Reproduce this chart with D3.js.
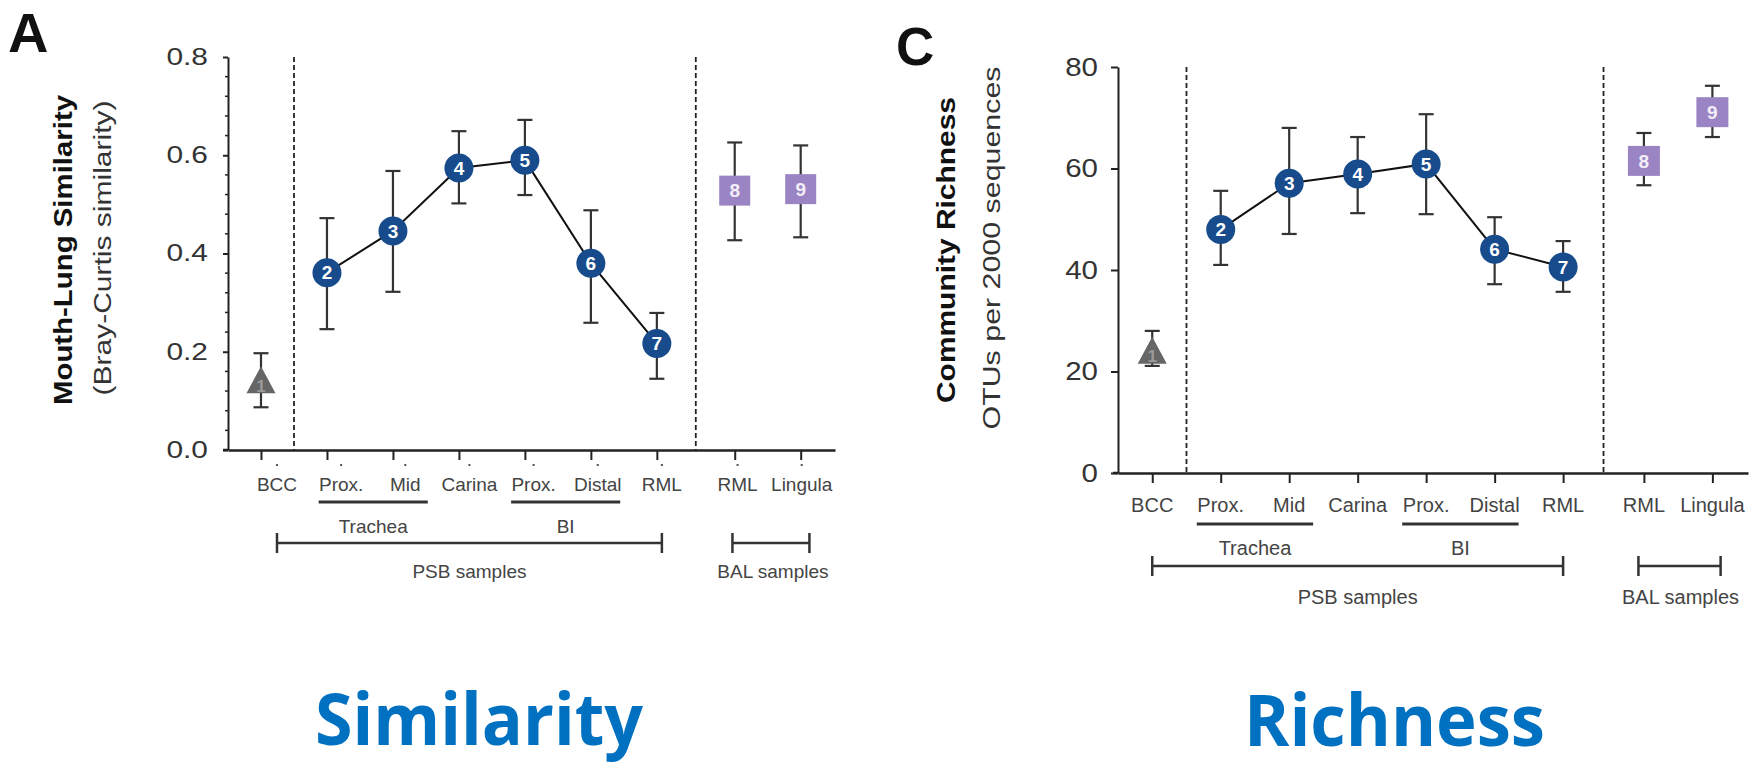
<!DOCTYPE html>
<html><head><meta charset="utf-8">
<script src="https://cdn.jsdelivr.net/npm/d3@7"></script>
<style>
html,body{margin:0;padding:0;background:#fff;}
svg{display:block;}
</style></head>
<body>
<svg id="chart" width="1760" height="768"></svg>
<script>
// ---------------- data ----------------
const categories = ["BCC","Prox.","Mid","Carina","Prox.","Distal","RML","RML","Lingula"];
const pointIds   = ["1","2","3","4","5","6","7","8","9"];
const markerKind = ["triangle","circle","circle","circle","circle","circle","circle","square","square"];
const connected  = [false,true,true,true,true,true,true,false,false];

const simMean = [0.139,0.361,0.446,0.574,0.590,0.380,0.217,0.528,0.531];
const simLow  = [0.087,0.246,0.322,0.502,0.519,0.259,0.145,0.427,0.433];
const simHigh = [0.197,0.472,0.568,0.649,0.672,0.488,0.279,0.626,0.620];
const simTicks = [0,0.2,0.4,0.6,0.8];

const richMean = [23.8,48.0,57.1,58.9,60.9,44.1,40.6,61.5,71.1];
const richLow  = [21.1,41.0,47.1,51.2,51.0,37.2,35.7,56.7,66.2];
const richHigh = [28.0,55.6,68.0,66.2,70.7,50.4,45.7,67.0,76.3];
const richTicks = [0,20,40,60,80];

const subGroups = [{name:"Trachea", from:1, to:2},{name:"BI", from:4, to:5}];
const sampleGroups = [{name:"PSB samples", from:0, to:6},{name:"BAL samples", from:7, to:8}];

// ---------------- styling ----------------
const FONT = "'Liberation Sans', Arial, Helvetica, sans-serif";
const NAVY = "#174b8b", PURPLE = "#9b84c4", GREY = "#666666", INK = "#222";
const svg = d3.select("#chart");

// slot of category i (a gap before the BAL group)
const slotOf = i => i < 7 ? i : i + 0.18;

function panel(cfg){
  const g = svg.append("g");
  const x = d3.scaleLinear().domain([-0.5, 8.7]).range([cfg.left, cfg.right]);
  const y = d3.scaleLinear().domain(cfg.yDomain).range([cfg.bottom, cfg.top]);
  const lx = s => x(s) + cfg.labelShift[0] + cfg.labelShift[1]*s;   // label position
  const data = categories.map((c,i)=>({c, i, s:slotOf(i), m:cfg.mean[i], lo:cfg.low[i], hi:cfg.high[i]}));

  // panel letter
  g.append("text").attr("x",cfg.letter.x).attr("y",cfg.letter.y)
    .attr("font-family",FONT).attr("font-weight","bold").attr("font-size",cfg.letter.size)
    .attr("fill","#111").text(cfg.letter.t);

  // y axis
  const ya = g.append("g").attr("transform",`translate(${cfg.left},0)`)
    .call(d3.axisLeft(y).tickValues(cfg.ticks).tickSize(cfg.tickLen).tickSizeOuter(0)
      .tickPadding(cfg.tickPad).tickFormat(cfg.fmt));
  ya.select(".domain").attr("stroke",INK).attr("stroke-width",2);
  ya.selectAll(".tick line").attr("stroke",INK).attr("stroke-width",2);
  ya.selectAll(".tick text").attr("font-family",FONT).attr("font-size",cfg.tickFont).attr("fill","#333")
    .each(function(){ const L=this.getComputedTextLength(); d3.select(this).attr("textLength",L*cfg.tickStretch).attr("lengthAdjust","spacingAndGlyphs"); });
  if (cfg.minor){
    const minorVals = d3.range(0, cfg.yDomain[1]+1e-9, cfg.minor).filter(v=>!cfg.ticks.some(t=>Math.abs(t-v)<1e-9));
    g.append("g").selectAll("line").data(minorVals).join("line")
      .attr("x1",cfg.left-3).attr("x2",cfg.left).attr("y1",d=>y(d)).attr("y2",d=>y(d))
      .attr("stroke",INK).attr("stroke-width",1.5);
  }

  // x axis
  const xa = g.append("g").attr("transform",`translate(0,${cfg.bottom})`)
    .call(d3.axisBottom(x).tickValues(data.map(d=>d.s)).tickSize(10).tickSizeOuter(0).tickFormat(""));
  xa.select(".domain").attr("stroke",INK).attr("stroke-width",2.5);
  xa.selectAll(".tick line").attr("stroke",INK).attr("stroke-width",2);
  g.append("line").attr("x1",cfg.left-5).attr("x2",cfg.left).attr("y1",cfg.bottom).attr("y2",cfg.bottom)
    .attr("stroke",INK).attr("stroke-width",2.5);

  if (cfg.dots){
    g.append("g").selectAll("rect").data(data).join("rect")
      .attr("x",d=>lx(d.s)-1).attr("y",cfg.bottom+14).attr("width",2).attr("height",2).attr("fill","#555");
  }

  // dashed separators
  g.append("g").selectAll("line").data([0.5, 6.59]).join("line")
    .attr("x1",d=>x(d)).attr("x2",d=>x(d)).attr("y1",y(cfg.yDomain[1])).attr("y2",cfg.bottom)
    .attr("stroke",INK).attr("stroke-width",1.8).attr("stroke-dasharray","5,3");

  // category labels
  g.append("g").selectAll("text").data(data).join("text")
    .attr("x",d=>lx(d.s)).attr("y",cfg.labelY).attr("text-anchor","middle")
    .attr("font-family",FONT).attr("font-size",cfg.labelFont).attr("fill","#444").text(d=>d.c);

  // sub-group underlines
  subGroups.forEach(sg=>{
    const x1 = lx(sg.from)-0.35*cfg.step, x2 = lx(sg.to)+0.35*cfg.step;
    g.append("line").attr("x1",x1).attr("x2",x2).attr("y1",cfg.underY).attr("y2",cfg.underY)
      .attr("stroke","#333").attr("stroke-width",3);
    g.append("text").attr("x",(x1+x2)/2).attr("y",cfg.subTextY).attr("text-anchor","middle")
      .attr("font-family",FONT).attr("font-size",cfg.labelFont).attr("fill","#444").text(sg.name);
  });
  // sample-group brackets
  sampleGroups.forEach((sg,k)=>{
    const x1 = k===0 ? lx(sg.from) : lx(slotOf(sg.from))-0.08*cfg.step;
    const x2 = k===0 ? lx(sg.to) : lx(slotOf(sg.to))+0.12*cfg.step;
    const br = g.append("g").attr("stroke","#333").attr("stroke-width",2.5);
    br.append("line").attr("x1",x1).attr("x2",x2).attr("y1",cfg.bracketY).attr("y2",cfg.bracketY);
    br.append("line").attr("x1",x1).attr("x2",x1).attr("y1",cfg.bracketY-10).attr("y2",cfg.bracketY+10);
    br.append("line").attr("x1",x2).attr("x2",x2).attr("y1",cfg.bracketY-10).attr("y2",cfg.bracketY+10);
    g.append("text").attr("x",(x1+x2)/2 + (k===1? cfg.balShift:0)).attr("y",cfg.bracketTextY).attr("text-anchor","middle")
      .attr("font-family",FONT).attr("font-size",cfg.labelFont).attr("fill","#444").text(sg.name);
  });

  // y titles
  cfg.titles.forEach(t=>{
    g.append("text").attr("transform",`translate(${t.x},${t.cy}) rotate(-90)`)
      .attr("text-anchor","middle").attr("font-family",FONT).attr("font-size",t.size)
      .attr("font-weight",t.bold?"bold":"normal").attr("fill",t.bold?"#111":"#333")
      .attr("textLength",t.len).attr("lengthAdjust","spacingAndGlyphs").text(t.t);
  });

  // error bars
  const eb = g.append("g").attr("stroke","#333").attr("stroke-width",2.2);
  data.forEach(d=>{
    eb.append("line").attr("x1",x(d.s)).attr("x2",x(d.s)).attr("y1",y(d.lo)).attr("y2",y(d.hi));
    [d.lo,d.hi].forEach(v=>eb.append("line").attr("x1",x(d.s)-cfg.cap/2).attr("x2",x(d.s)+cfg.cap/2).attr("y1",y(v)).attr("y2",y(v)));
  });

  // connecting line
  g.append("path").datum(data.filter(d=>connected[d.i]))
    .attr("d",d3.line().x(d=>x(d.s)).y(d=>y(d.m)))
    .attr("fill","none").attr("stroke","#111").attr("stroke-width",2);

  // markers
  const mk = g.append("g");
  data.forEach(d=>{
    const cx = x(d.s), cy = y(d.m), kind = markerKind[d.i];
    if (kind==="circle"){
      mk.append("circle").attr("cx",cx).attr("cy",cy).attr("r",cfg.r).attr("fill",NAVY);
    } else if (kind==="square"){
      mk.append("rect").attr("x",cx-cfg.sq/2).attr("y",cy-15).attr("width",cfg.sq).attr("height",30).attr("fill",PURPLE);
    } else {
      const w=29,h=27;
      mk.append("path").attr("d",`M${cx},${cy-h/2-2}L${cx+w/2},${cy+h/2-2}L${cx-w/2},${cy+h/2-2}Z`).attr("fill",GREY);
    }
    mk.append("text").attr("x",cx).attr("y",cy + (kind==="triangle"?4:0)).attr("dy","0.36em").attr("text-anchor","middle")
      .attr("font-family",FONT).attr("font-weight","bold").attr("font-size",kind==="triangle"?17:19)
      .attr("fill",kind==="circle"?"#fff":(kind==="square"?"#f2eef8":"#9a9a9a")).text(pointIds[d.i]);
  });
}

panel({
  left:228, right:835, top:57, bottom:450, yDomain:[0,0.8], ticks:simTicks, fmt:d3.format(".1f"),
  mean:simMean, low:simLow, high:simHigh,
  letter:{t:"A", x:8, y:52, size:56},
  tickLen:5, tickPad:15, tickFont:23, tickStretch:1.3, minor:0.04,
  labelShift:[16,-1.83], step:64.2, dots:true,
  labelY:491, labelFont:19, underY:502, subTextY:533, bracketY:543, bracketTextY:578, balShift:2,
  r:14.5, sq:31, cap:15,
  titles:[{t:"Mouth-Lung Similarity", x:72, cy:250, size:25, bold:true, len:310},
          {t:"(Bray-Curtis similarity)", x:111, cy:248, size:23, bold:false, len:295}]
});

panel({
  left:1118, right:1748, top:67, bottom:473, yDomain:[0,80], ticks:richTicks, fmt:d3.format("d"),
  mean:richMean, low:richLow, high:richHigh,
  letter:{t:"C", x:896, y:65, size:53},
  tickLen:7, tickPad:13, tickFont:25, tickStretch:1.18, minor:null,
  labelShift:[0,0], step:68.5, dots:false,
  labelY:512, labelFont:20, underY:524, subTextY:555, bracketY:566, bracketTextY:604, balShift:1,
  r:14.5, sq:32, cap:15,
  titles:[{t:"Community Richness", x:955, cy:250, size:25, bold:true, len:306},
          {t:"OTUs per 2000 sequences", x:1000, cy:248, size:24, bold:false, len:363}]
});

// big captions
svg.append("text").attr("x",315).attr("y",745).attr("font-family","'Open Sans','Noto Sans',sans-serif")
  .attr("font-weight","bold").attr("font-size",72).attr("fill","#0070c0")
  .attr("textLength",328).attr("lengthAdjust","spacingAndGlyphs").text("Similarity");
svg.append("text").attr("x",1244).attr("y",746).attr("font-family","'Open Sans','Noto Sans',sans-serif")
  .attr("font-weight","bold").attr("font-size",72).attr("fill","#0070c0")
  .attr("textLength",301).attr("lengthAdjust","spacingAndGlyphs").text("Richness");
</script>
</body></html>
